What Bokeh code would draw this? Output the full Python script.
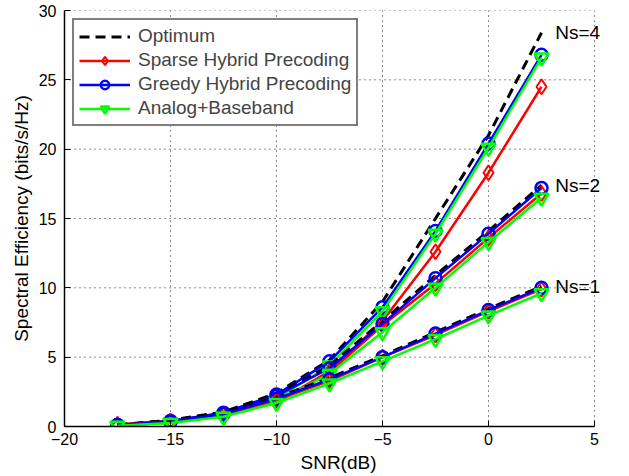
from bokeh.plotting import figure
from bokeh.models import Legend, LegendItem, FixedTicker, Range1d, Label
from bokeh.embed import file_html
from bokeh.resources import INLINE

snr = [-17.5, -15, -12.5, -10, -7.5, -5, -2.5, 0, 2.5]

ns_labels = ["Ns=4", "Ns=2", "Ns=1"]

optimum = {
    "Ns=4": [0.12, 0.45, 1.05, 2.4, 4.8, 9.0, 15.0, 21.0, 28.4],
    "Ns=2": [0.1, 0.42, 1.0, 2.3, 4.4, 7.6, 10.9, 14.1, 17.4],
    "Ns=1": [0.1, 0.4, 0.95, 2.1, 3.5, 5.1, 6.8, 8.5, 10.1],
}
sparse = {
    "Ns=4": [0.15, 0.4, 0.9, 1.7, 4.0, 7.6, 12.6, 18.3, 24.5],
    "Ns=2": [0.12, 0.38, 0.9, 1.8, 3.9, 7.3, 10.3, 13.6, 16.8],
    "Ns=1": [0.1, 0.35, 0.85, 1.9, 3.3, 5.0, 6.6, 8.3, 9.9],
}
greedy = {
    "Ns=4": [0.1, 0.4, 1.0, 2.3, 4.7, 8.6, 14.1, 20.4, 26.8],
    "Ns=2": [0.1, 0.38, 0.95, 2.2, 4.2, 7.4, 10.7, 13.9, 17.2],
    "Ns=1": [0.1, 0.35, 0.9, 2.0, 3.4, 5.0, 6.7, 8.4, 10.0],
}
analog = {
    "Ns=4": [0.05, 0.3, 0.8, 2.0, 4.4, 8.3, 13.9, 20.1, 26.6],
    "Ns=2": [0.05, 0.28, 0.75, 1.8, 3.8, 6.8, 10.0, 13.3, 16.5],
    "Ns=1": [0.05, 0.25, 0.7, 1.7, 3.1, 4.7, 6.3, 8.0, 9.6],
}

x_ticks = [-20, -15, -10, -5, 0, 5]
y_ticks = [0, 5, 10, 15, 20, 25, 30]

FONT = "Liberation Sans"

# frame is widened to the right so the Ns labels can sit beyond x=5
x_lo, x_hi = x_ticks[0], x_ticks[-1]
px_per_unit = 530 / (x_hi - x_lo)
extra_px = 18
x_end = x_hi + extra_px / px_per_unit

p = figure(width=629, height=476, output_backend="svg", toolbar_location=None,
           x_range=Range1d(x_lo, x_end), y_range=Range1d(y_ticks[0], y_ticks[-1]),
           min_border_left=64, min_border_right=35 - extra_px, min_border_top=10,
           min_border_bottom=50)
p.outline_line_color = None
p.background_fill_color = "white"

for ax, ticks in ((p.xaxis[0], x_ticks), (p.yaxis[0], y_ticks)):
    ax.ticker = FixedTicker(ticks=ticks)
    ax.major_label_overrides = {t: (str(t).replace("-", "\u2212")) for t in ticks}
    ax.major_tick_in = 6
    ax.major_tick_out = 0
    ax.minor_tick_in = 0
    ax.minor_tick_out = 0
    ax.axis_line_width = 1.5
    ax.axis_line_color = "black"
    ax.major_tick_line_color = "black"
    ax.major_label_text_font = FONT
    ax.major_label_text_font_size = "16px"
    ax.major_label_text_color = "black"
    ax.axis_label_text_font = FONT
    ax.axis_label_text_font_size = "19px"
    ax.axis_label_text_font_style = "normal"
    ax.axis_label_text_color = "black"

p.xaxis.bounds = (x_lo, x_hi)
p.xaxis.axis_label = "SNR(dB)"
p.yaxis.axis_label = "Spectral Efficiency (bits/s/Hz)"
p.xaxis.major_label_standoff = 6
p.xaxis.axis_label_standoff = 4
p.yaxis.major_label_standoff = 8
p.yaxis.axis_label_standoff = 4

grid_style = dict(line_color="black", line_dash="1 4", line_width=1, line_alpha=0.9)
p.xgrid.grid_line_color = grid_style["line_color"]
p.xgrid.grid_line_dash = grid_style["line_dash"]
p.xgrid.grid_line_width = 1
p.xgrid.grid_line_alpha = 0.9
p.ygrid.visible = False
p.segment(x0=[x_lo] * len(y_ticks), x1=[x_hi] * len(y_ticks), y0=y_ticks, y1=y_ticks,
          **grid_style)

items = {}
for ns in ns_labels:
    lo = p.line(snr, optimum[ns], color="black", line_width=3, line_dash="10 6")
    ls = p.line(snr, sparse[ns], color="red", line_width=2.5)
    ms = p.scatter(snr, sparse[ns], marker="diamond", size=15, fill_color=None,
                   line_color="red", line_width=2)
    lg = p.line(snr, greedy[ns], color="blue", line_width=2.5)
    mg = p.scatter(snr, greedy[ns], marker="circle", size=12, fill_color=None,
                   line_color="blue", line_width=2.5)
    la = p.line(snr, analog[ns], color="#00ff00", line_width=2.5)
    ma = p.scatter(snr, analog[ns], marker="inverted_triangle", size=14, fill_color=None,
                   line_color="#00ff00", line_width=2.5)
    if ns == "Ns=4":
        items = {"Optimum": [lo], "Sparse Hybrid Precoding": [ls, ms],
                 "Greedy Hybrid Precoding": [lg, mg], "Analog+Baseband": [la, ma]}
    p.add_layout(Label(x=snr[-1] + 0.65, y=optimum[ns][-1], text=ns,
                       x_units="data", y_units="data", text_font=FONT,
                       text_font_size="19px", text_align="left", text_baseline="middle",
                       text_color="black"))

legend = Legend(items=[LegendItem(label=k, renderers=v) for k, v in items.items()],
                location="top_left")
legend.margin = 8
legend.padding = 5
legend.spacing = 2
legend.glyph_width = 51
legend.label_standoff = 8
legend.label_text_font = FONT
legend.label_text_font_size = "19px"
legend.label_height = 21
legend.glyph_height = 21
legend.border_line_color = "black"
legend.border_line_width = 2
legend.background_fill_alpha = 1
p.add_layout(legend, "center")

open("out.html", "w").write(file_html(p, INLINE))
